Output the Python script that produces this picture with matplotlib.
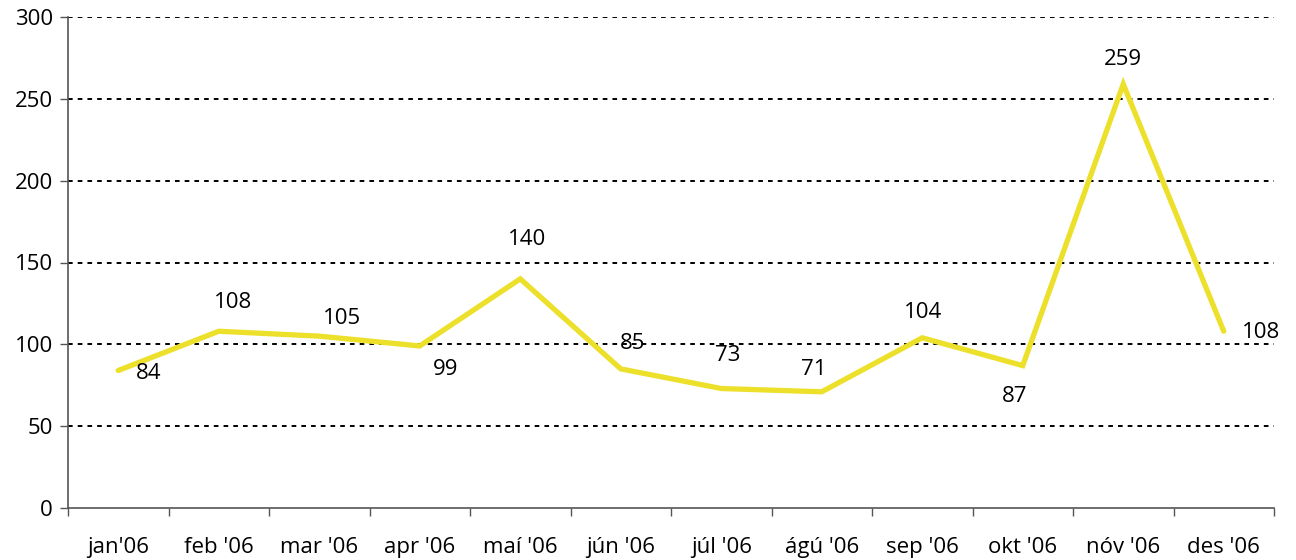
import numpy as np
import matplotlib.pyplot as plt

months = ["jan'06", "feb '06", "mar '06", "apr '06", "maí '06", "jún '06",
          "júl '06", "ágú '06", "sep '06", "okt '06", "nóv '06", "des '06"]
values = [84, 108, 105, 99, 140, 85, 73, 71, 104, 87, 259, 108]
# label offsets in pixels (dx, dy)
label_offsets = [(30, -3), (14, 29), (23, 18), (26, -24), (7, 39), (12, 25),
                 (6, 33), (-8, 22), (1, 25), (-8, -31), (0, 25), (37, -1)]

plt.rcParams['font.family'] = ['Open Sans', 'DejaVu Sans']

fig = plt.figure(figsize=(12.96, 5.6), dpi=100)
ax = fig.add_axes([68 / 1296, 1 - 508 / 560, 1206 / 1296, 491 / 560])

x = np.arange(len(months))
ax.plot(x, values, color='#ECE02A', linewidth=3.8, solid_capstyle='round',
        solid_joinstyle='miter', zorder=3)

for xi, v, (dx, dy) in zip(x, values, label_offsets):
    ax.annotate(str(v), (xi, v), xytext=(dx, dy), textcoords='offset pixels',
                ha='center', va='center', fontsize=16, color='black', zorder=4)

ax.set_xlim(-0.5, len(months) - 0.5)
ax.set_ylim(0, 300)
ax.set_yticks(np.arange(0, 301, 50))
ax.set_xticks(np.arange(-0.5, len(months), 1.0))
ax.set_xticklabels([])
ax.set_xticks(x, minor=True)
ax.set_xticklabels(months, minor=True, fontsize=16)
ax.tick_params(axis='x', which='minor', length=0, pad=21)
ax.tick_params(axis='x', which='major', length=6, width=1, color='#555555', direction='out')
ax.tick_params(axis='y', length=6, width=1, color='#555555', labelsize=16, pad=5)

for yv in np.arange(50, 301, 50):
    ax.axhline(yv, color='black', linewidth=1.4, linestyle=(0, (2.4, 2.6)), zorder=1)

for s in ['top', 'right']:
    ax.spines[s].set_visible(False)
for s in ['left', 'bottom']:
    ax.spines[s].set_color('#555555')
    ax.spines[s].set_linewidth(1.2)

plt.savefig("out.png", dpi=100)
